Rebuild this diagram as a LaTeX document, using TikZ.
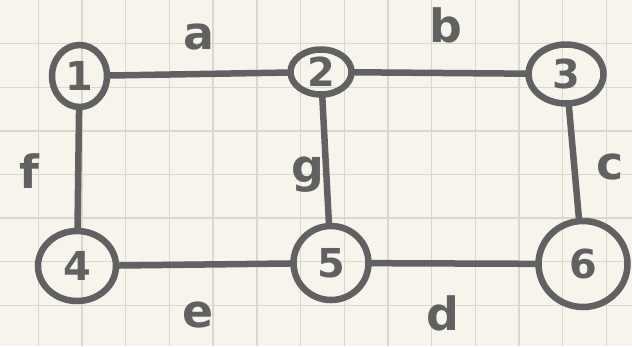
\documentclass[tikz,border=0pt]{standalone}
\usepackage{fontspec}
\setmainfont{DejaVu Sans}
\usetikzlibrary{shapes.geometric}
\definecolor{paper}{HTML}{F7F5EB}
\definecolor{gridline}{HTML}{DAD8CC}
\definecolor{pen}{HTML}{616161}

\begin{document}
\begin{tikzpicture}[x=1bp, y=-1bp,
    vert/.style={ellipse, draw=pen, line width=6.5bp, text=pen, inner sep=0pt,
      font=\fontsize{40}{40}\selectfont\bfseries},
    edge/.style={draw=pen, line width=6.5bp, line cap=round},
    lbl/.style={text=pen, inner sep=0pt, font=\fontsize{46}{46}\selectfont\bfseries}]
    % paper and grid
    \fill[paper] (0,0) rectangle (632,346);
    \useasboundingbox (0,0) rectangle (632,346);
    \foreach \i in {0,...,13}
      \draw[gridline, line width=1.4bp] (38.3+43.7*\i,0) -- (38.3+43.7*\i,346);
    \foreach \j in {1,...,7}
      \draw[gridline, line width=1.4bp] (0,43.6*\j) -- (632,43.6*\j);

    \node[vert, minimum width=55bp, minimum height=62bp] (n1) at (79.5,76) {1};
    \node[vert, minimum width=61bp, minimum height=45bp] (n2) at (321,72) {2};
    \node[vert, minimum width=75bp, minimum height=59bp] (n3) at (566,74) {3};
    \node[vert, minimum width=78bp, minimum height=70bp] (n4) at (77,266) {4};
    \node[vert, minimum width=75bp, minimum height=74bp] (n5) at (331,263) {5};
    \node[vert, minimum width=89bp, minimum height=86bp] (n6) at (583,264) {6};

    \draw[edge] (n1) -- (n2);
    \draw[edge] (n2) -- (n3);
    \draw[edge] (n3) -- (n6);
    \draw[edge] (n5) -- (n6);
    \draw[edge] (n4) -- (n5);
    \draw[edge] (n1) -- (n4);
    \draw[edge] (n2) -- (n5);

    \node[lbl] (la) at (199,37) {a};
    \node[lbl] (lb) at (446,25) {b};
    \node[lbl] (lc) at (610,167) {c};
    \node[lbl] (ld) at (443,313) {d};
    \node[lbl] (le) at (198,315) {e};
    \node[lbl] (lf) at (29,171) {f};
    \node[lbl] (lg) at (308,175) {g};
  \end{tikzpicture}
\end{document}
